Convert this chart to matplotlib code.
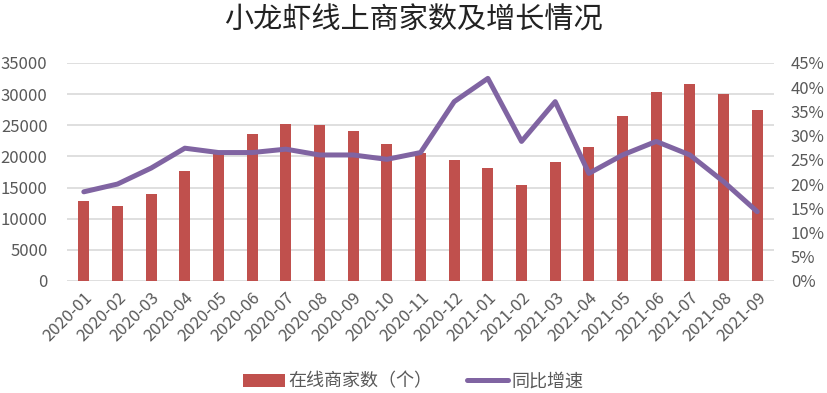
import matplotlib.pyplot as plt
import numpy as np
from matplotlib.ticker import FuncFormatter

plt.rcParams['font.family'] = ['Noto Sans CJK SC', 'DejaVu Sans']

months = ['2020-01', '2020-02', '2020-03', '2020-04', '2020-05', '2020-06', '2020-07',
          '2020-08', '2020-09', '2020-10', '2020-11', '2020-12', '2021-01', '2021-02',
          '2021-03', '2021-04', '2021-05', '2021-06', '2021-07', '2021-08', '2021-09']
merchants = [12800, 12000, 13900, 17600, 20800, 23560, 25160, 25000, 24090, 21950, 20500,
             19430, 18150, 15370, 19060, 21470, 26450, 30300, 31640, 30030, 27410]
growth = [18.4, 20.0, 23.3, 27.4, 26.5, 26.5, 27.2, 26.0, 26.0, 25.1, 26.5,
          37.0, 41.8, 28.8, 37.0, 22.2, 26.0, 28.8, 26.0, 20.5, 14.3]

fig = plt.figure(figsize=(8.27, 3.93), dpi=100)
ax = fig.add_axes([0.081, 0.285, 0.855, 0.555])
ax2 = ax.twinx()

x = np.arange(len(months))
ax.bar(x, merchants, width=0.33, color='#C0504D', label='在线商家数（个）', zorder=2)
ax2.plot(x, growth, color='#8064A2', lw=3.6, label='同比增速', zorder=3,
         solid_capstyle='round')

ax.set_ylim(0, 35000)
ax.set_yticks(np.arange(0, 35001, 5000))
ax2.set_ylim(0, 45)
ax2.set_yticks(np.arange(0, 46, 5))
ax2.yaxis.set_major_formatter(FuncFormatter(lambda v, p: '%d%%' % v))
ax.set_xlim(-0.5, len(months) - 0.5)
ax.set_xticks(x)
ax.set_xticklabels(months, rotation=45, ha='right', rotation_mode='anchor')

ax.grid(axis='y', color='#D9D9D9', lw=1.2, zorder=0)
ax.set_axisbelow(True)
for a in (ax, ax2):
    for s in a.spines.values():
        s.set_visible(False)
    a.tick_params(length=0, labelsize=12, colors='#595959')
ax.tick_params(axis='x', pad=6)
ax.tick_params(axis='y', pad=14)
ax2.tick_params(axis='y', pad=12)

fig.suptitle('小龙虾线上商家数及增长情况', fontsize=21, y=0.985, color='#222222')

h1, l1 = ax.get_legend_handles_labels()
h2, l2 = ax2.get_legend_handles_labels()
fig.legend(h1 + h2, l1 + l2, loc='lower center', bbox_to_anchor=(0.5, -0.035), ncol=2,
           frameon=False, fontsize=13, handlelength=2.3, columnspacing=1.9,
           handletextpad=0.2, labelcolor='#595959')

plt.savefig('out.png', dpi=100)
